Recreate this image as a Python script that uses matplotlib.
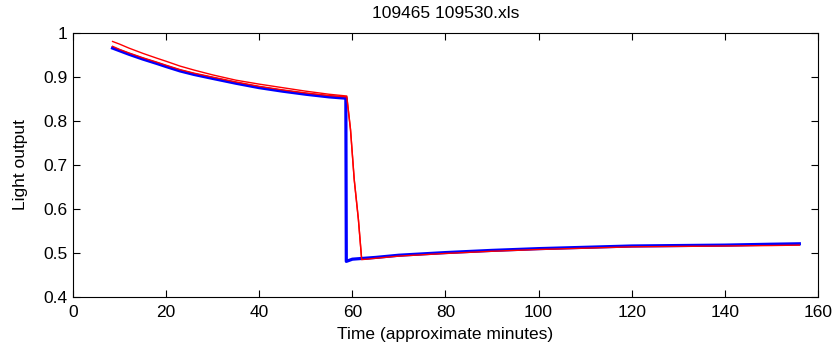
import matplotlib
matplotlib.use("Agg")
import matplotlib.pyplot as plt

plt.rcParams['font.family'] = ['Liberation Sans', 'DejaVu Sans']

# blue trace (thick)
time_blue = [8.5, 10, 12, 15, 18, 20, 23, 26, 30, 35, 40, 45, 50, 55, 58.6,
             58.7, 60, 65, 70, 80, 90, 100, 110, 120, 130, 140, 150, 156]
light_blue = [0.966, 0.960, 0.952, 0.941, 0.931, 0.924, 0.914, 0.906, 0.897,
              0.886, 0.876, 0.868, 0.861, 0.855, 0.852,
              0.481, 0.486, 0.490, 0.495, 0.501, 0.506, 0.510, 0.513, 0.516,
              0.517, 0.518, 0.520, 0.521]

# red traces (thin)
time_red = [8.5, 10, 12, 15, 18, 20, 23, 26, 30, 35, 40, 45, 50, 55, 58.8,
            59.6, 60.4, 61.3, 62.0, 65, 70, 80, 90, 100, 110, 120, 130, 140,
            150, 156]
light_red_upper = [0.981, 0.975, 0.966, 0.954, 0.943, 0.936, 0.925, 0.916,
                   0.905, 0.893, 0.884, 0.876, 0.868, 0.861, 0.857,
                   0.782, 0.668, 0.577, 0.486, 0.489, 0.494, 0.500, 0.505,
                   0.509, 0.512, 0.515, 0.516, 0.517, 0.518, 0.519]
light_red_lower = [0.970, 0.963, 0.955, 0.944, 0.934, 0.927, 0.917, 0.909,
                   0.900, 0.889, 0.879, 0.871, 0.864, 0.858, 0.855,
                   0.780, 0.666, 0.575, 0.485, 0.488, 0.493, 0.499, 0.504,
                   0.508, 0.511, 0.514, 0.515, 0.516, 0.517, 0.518]

x_ticks = [0, 20, 40, 60, 80, 100, 120, 140, 160]
y_ticks = [0.4, 0.5, 0.6, 0.7, 0.8, 0.9, 1.0]
y_tick_labels = ['0.4', '0.5', '0.6', '0.7', '0.8', '0.9', '1']

fig = plt.figure(figsize=(8.38, 3.6), dpi=100)
ax = fig.add_axes([0.0871, 0.175, 0.889, 0.733])

ax.plot(time_red, light_red_upper, color='red', linewidth=1.0)
ax.plot(time_blue, light_blue, color='blue', linewidth=2.3)
ax.plot(time_red, light_red_lower, color='red', linewidth=1.0)

ax.set_xlim(0, 160)
ax.set_ylim(0.4, 1.0)
ax.set_xticks(x_ticks)
ax.set_yticks(y_ticks)
ax.set_yticklabels(y_tick_labels)
ax.tick_params(direction='in', top=True, right=True, length=5, width=0.8,
               labelsize=12.5)
ax.tick_params(axis='x', pad=6)
ax.tick_params(axis='y', pad=4)
for spine in ax.spines.values():
    spine.set_linewidth(0.8)

ax.set_xlabel('Time (approximate minutes)', fontsize=12.5, labelpad=5)
ax.set_ylabel('Light output', fontsize=12.5, labelpad=11)
ax.set_title('109465 109530.xls', fontsize=12.5, pad=11)

fig.savefig('out.png', dpi=100)
